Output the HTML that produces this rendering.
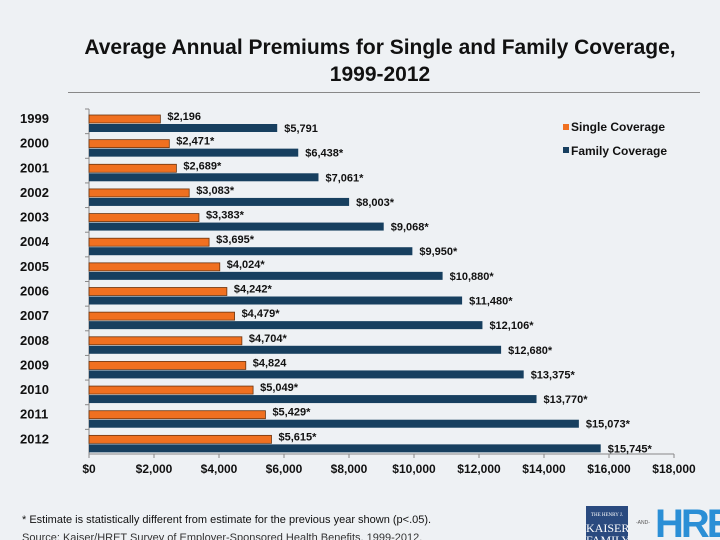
<!DOCTYPE html>
<html><head><meta charset="utf-8"><style>
body{margin:0;background:#fff}
#root{width:720px;height:540px;position:relative;overflow:hidden;background:#eef1f4;font-family:"Liberation Sans",sans-serif}
.t{position:absolute;left:0;width:760px;text-align:center;font-weight:bold;font-size:21px;color:#111}
</style></head><body>
<div id="root">
<div class="t" style="top:36px">Average Annual Premiums for Single and Family Coverage,</div>
<div class="t" style="top:63px">1999-2012</div>
<div style="position:absolute;left:68px;top:92px;width:632px;height:1px;background:#888"></div>
<svg id="chart" width="720" height="540" style="position:absolute;left:0;top:0"></svg>
<div style="position:absolute;left:22px;top:514px;font-size:11px;color:#111">* Estimate is statistically different from estimate for the previous year shown (p&lt;.05).</div>
<div style="position:absolute;left:22px;top:532px;font-size:11px;color:#333">Source: Kaiser/HRET Survey of Employer-Sponsored Health Benefits, 1999-2012.</div>
<div style="position:absolute;left:586px;top:506px;width:42px;height:40px;background:#2a4a7f;color:#fff;font-family:'Liberation Serif',serif;font-size:12px;text-align:center;line-height:12px"><span style="font-size:5px">THE HENRY J.</span><br>KAISER<br>FAMILY</div>
<div style="position:absolute;left:636px;top:520px;font-size:5px;color:#555">-AND-</div>
<div style="position:absolute;left:655px;top:502px;font-size:40px;font-weight:bold;color:#2b8fd6;letter-spacing:-3px">HRE</div>
</div>
<script>
const years=["1999","2000","2001","2002","2003","2004","2005","2006","2007","2008","2009","2010","2011","2012"];
const single=[2196,2471,2689,3083,3383,3695,4024,4242,4479,4704,4824,5049,5429,5615];
const family=[5791,6438,7061,8003,9068,9950,10880,11480,12106,12680,13375,13770,15073,15745];
const singleLabels=["$2,196","$2,471*","$2,689*","$3,083*","$3,383*","$3,695*","$4,024*","$4,242*","$4,479*","$4,704*","$4,824","$5,049*","$5,429*","$5,615*"];
const familyLabels=["$5,791","$6,438*","$7,061*","$8,003*","$9,068*","$9,950*","$10,880*","$11,480*","$12,106*","$12,680*","$13,375*","$13,770*","$15,073*","$15,745*"];
const ticks=[0,2000,4000,6000,8000,10000,12000,14000,16000,18000];
const tickLabels=["$0","$2,000","$4,000","$6,000","$8,000","$10,000","$12,000","$14,000","$16,000","$18,000"];
const NS="http://www.w3.org/2000/svg";
const svg=document.getElementById('chart');
const X0=89,X1=674,Y0=109,Y1=454,XMAX=18000;
const band=(Y1-Y0)/years.length;
function x(v){return X0+v/XMAX*(X1-X0);}
function yb(i){return Y0+i*band;}
function mk(tag,attrs,txt){const e=document.createElementNS(NS,tag);for(const k in attrs)e.setAttribute(k,attrs[k]);if(txt!==undefined)e.textContent=txt;svg.appendChild(e);return e;}
let e;
e=mk('line',{x1:X0,y1:Y0,x2:X0,y2:Y1,stroke:'#888'});


e=mk('line',{x1:X0,y1:Y1,x2:X1,y2:Y1,stroke:'#888'});


ticks.forEach((t,i)=>{
 e=mk('line',{x1:x(t),y1:Y1,x2:x(t),y2:Y1+4,stroke:'#888'});
 
 
 e=mk('text',{x:x(t),y:Y1+19,'text-anchor':'middle','font-size':'12','font-weight':'bold',fill:'#111','font-family':'Liberation Sans'},tickLabels[i]);
 
 
});
years.forEach((yr,i)=>{
 const top=yb(i);
 e=mk('line',{x1:X0-4,y1:top,x2:X0,y2:top,stroke:'#888'});
 
 
 e=mk('text',{x:20,y:top+14,'font-size':'13','font-weight':'bold',fill:'#111','font-family':'Liberation Sans'},yr);
 
 
 e=mk('rect',{x:X0,y:top+6,width:x(single[i])-X0,height:8,fill:'#f07020',stroke:'#6b3510','stroke-width':'0.8'});
 
 
 e=mk('rect',{x:X0,y:top+15,width:x(family[i])-X0,height:8,fill:'#173f5f'});
 
 
 e=mk('text',{x:x(single[i])+7,y:top+11,'font-size':'11','font-weight':'bold',fill:'#111','font-family':'Liberation Sans'},singleLabels[i]);
 
 
 e=mk('text',{x:x(family[i])+7,y:top+23,'font-size':'11','font-weight':'bold',fill:'#111','font-family':'Liberation Sans'},familyLabels[i]);
 
 
});
e=mk('rect',{x:563,y:124,width:6,height:6,fill:'#f07020'});


e=mk('text',{x:571,y:131,'font-size':'12','font-weight':'bold',fill:'#111','font-family':'Liberation Sans'},'Single Coverage');


e=mk('rect',{x:563,y:147,width:6,height:6,fill:'#173f5f'});


e=mk('text',{x:571,y:155,'font-size':'12','font-weight':'bold',fill:'#111','font-family':'Liberation Sans'},'Family Coverage');


</script>
</body></html>
